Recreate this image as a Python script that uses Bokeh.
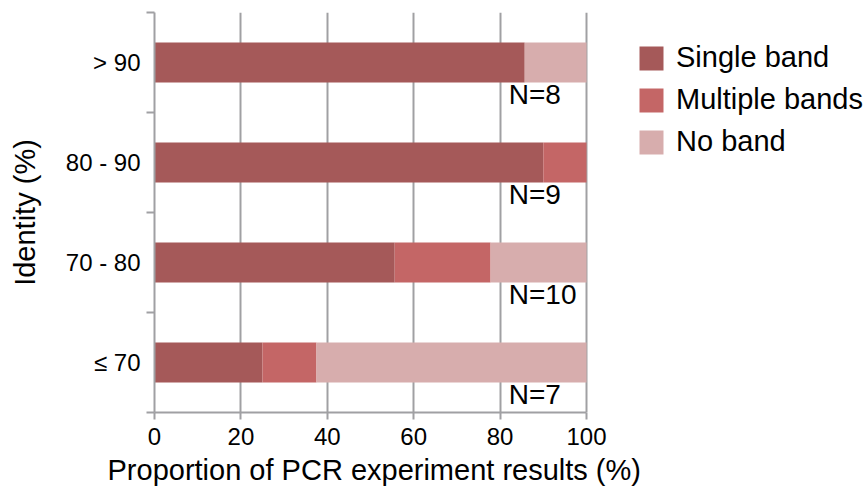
from bokeh.plotting import figure
from bokeh.models import ColumnDataSource, FixedTicker, Range1d, Title
from bokeh.core.properties import value
from bokeh.embed import file_html
from bokeh.resources import INLINE

# ---- data ----
categories = ["≤ 70", "70 - 80", "80 - 90", "> 90"]
single_band = [25.0, 55.6, 90.0, 85.7]
multiple_bands = [12.5, 22.2, 10.0, 0.0]
no_band = [62.5, 22.2, 0.0, 14.3]
n_labels = ["N=7", "N=10", "N=9", "N=8"]
series_names = ["Single band", "Multiple bands", "No band"]
x_ticks = [0, 20, 40, 60, 80, 100]
x_title = "Proportion of PCR experiment results (%)"
y_title = "Identity (%)"

colors = ["#A55959", "#C46666", "#D7ADAD"]
FONT = "Liberation Sans"
GREY = "#A0A0A3"

W, H = 867, 497
LEFT, TOP, BOTTOM = 154, 12, 85
AXIS_PX = 432  # pixel length of the 0..100 axis
frame_w = W - LEFT
x_max = x_ticks[-1] * frame_w / AXIS_PX  # extra room on the right holds the legend

pos = [i + 0.5 for i in range(len(categories))]
source = ColumnDataSource(dict(pos=pos, single=single_band, multiple=multiple_bands, none=no_band))

p = figure(width=W, height=H, output_backend="svg", toolbar_location=None,
           x_range=Range1d(0, x_max), y_range=Range1d(0, len(categories)),
           min_border_left=LEFT, min_border_right=0, min_border_top=TOP, min_border_bottom=BOTTOM)
p.outline_line_color = None
p.background_fill_color = "white"
p.border_fill_color = "white"

p.hbar_stack(["single", "multiple", "none"], y="pos", height=0.4, color=colors,
             line_color=None, source=source, legend_label=series_names)

lab_src = ColumnDataSource(dict(x=[82] * len(n_labels), y=pos, t=n_labels))
p.text(x="x", y="y", text="t", source=lab_src, text_font=value(FONT),
       text_font_size="28px", text_color="black", text_baseline="alphabetic",
       text_align="left", y_offset=32)

# x axis (its line spans only 0..100)
p.xaxis.ticker = FixedTicker(ticks=x_ticks)
p.xaxis.bounds = (x_ticks[0], x_ticks[-1])
p.xaxis.axis_line_color = GREY
p.xaxis.axis_line_width = 2
p.xaxis.major_tick_line_color = GREY
p.xaxis.major_tick_line_width = 2
p.xaxis.major_tick_out = 7
p.xaxis.major_tick_in = 0
p.xaxis.minor_tick_line_color = None
p.xaxis.major_label_standoff = 8
p.xaxis.major_label_text_font = FONT
p.xaxis.major_label_text_font_size = "24px"
p.xaxis.major_label_text_color = "black"

# x axis title, placed under the 0..100 span
p.add_layout(Title(text=x_title, align="left", offset=-47, standoff=9,
                   text_font=FONT, text_font_size="29px", text_font_style="normal",
                   text_color="black"), "below")

# y axis
p.yaxis.ticker = FixedTicker(ticks=pos, minor_ticks=list(range(len(categories) + 1)))
p.yaxis.major_label_overrides = {pv: c for pv, c in zip(pos, categories)}
p.yaxis.axis_label = y_title
p.yaxis.axis_line_color = GREY
p.yaxis.axis_line_width = 2
p.yaxis.major_tick_line_color = None
p.yaxis.major_tick_out = 0
p.yaxis.major_tick_in = 0
p.yaxis.minor_tick_line_color = GREY
p.yaxis.minor_tick_line_width = 2
p.yaxis.minor_tick_out = 8
p.yaxis.minor_tick_in = 0
p.yaxis.major_label_standoff = 6
p.yaxis.axis_label_standoff = 22
p.yaxis.major_label_text_font = FONT
p.yaxis.major_label_text_font_size = "24px"
p.yaxis.major_label_text_color = "black"
p.yaxis.axis_label_text_font = FONT
p.yaxis.axis_label_text_font_size = "29px"
p.yaxis.axis_label_text_font_style = "normal"
p.yaxis.axis_label_text_color = "black"

# grid
p.xgrid.grid_line_color = GREY
p.xgrid.grid_line_width = 2
p.ygrid.grid_line_color = None

# legend
leg = p.legend[0]
leg.location = (482, 254)
leg.padding = 0
leg.margin = 0
leg.spacing = 9
leg.border_line_color = None
leg.background_fill_alpha = 0
leg.glyph_width = 30
leg.glyph_height = 30
leg.label_standoff = 10
leg.label_text_font = FONT
leg.label_text_font_size = "29px"
leg.label_text_color = "black"

open("out.html", "w").write(file_html(p, INLINE))
